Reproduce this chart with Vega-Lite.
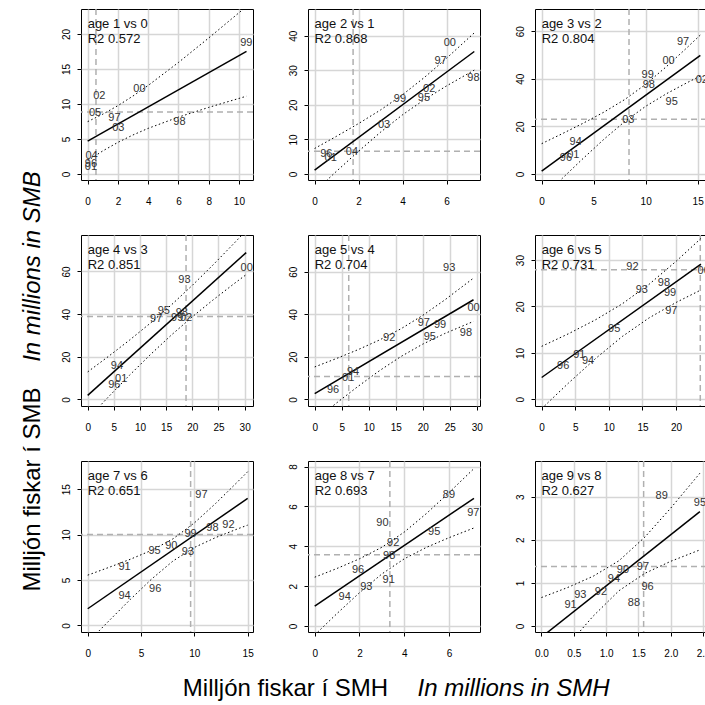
{
"$schema":"https://vega.github.io/schema/vega-lite/v6.json",
"padding":{"left":19,"top":7,"right":0,"bottom":0},
"columns":3,
"spacing":55,
"bounds":"flush",
"concat":[
{"width":172,"height":171,
"data":{"values":[
{"t":"v","x":0.55},{"t":"h","y":8.86},
{"t":"f","x":0,"y":4.7},{"t":"f","x":10.5,"y":17.51},
{"t":"u","x":0,"y":7.48},{"t":"u","x":1,"y":8.54},{"t":"u","x":2,"y":9.76},{"t":"u","x":3,"y":11.14},{"t":"u","x":4,"y":12.64},{"t":"u","x":6,"y":15.92},{"t":"u","x":8,"y":19.41},{"t":"u","x":10.5,"y":23.91},
{"t":"l","x":0,"y":1.92},{"t":"l","x":1,"y":3.30},{"t":"l","x":2,"y":4.52},{"t":"l","x":3,"y":5.58},{"t":"l","x":4,"y":6.52},{"t":"l","x":6,"y":8.12},{"t":"l","x":8,"y":9.51},{"t":"l","x":10.5,"y":11.11},
{"t":"p","x":10.49,"y":18.7,"lab":"99"},{"t":"p","x":3.42,"y":12.1,"lab":"00"},{"t":"p","x":0.77,"y":11.1,"lab":"02"},{"t":"p","x":0.49,"y":8.7,"lab":"05"},{"t":"p","x":1.77,"y":8.0,"lab":"97"},{"t":"p","x":2.03,"y":6.6,"lab":"03"},{"t":"p","x":6.07,"y":7.4,"lab":"98"},{"t":"p","x":0.26,"y":2.6,"lab":"04"},{"t":"p","x":0.22,"y":1.4,"lab":"96"},{"t":"p","x":0.22,"y":0.95,"lab":"01"},
{"t":"n","x":0,"y":21.45,"lab":"age 1 vs 0"},{"t":"n","x":0,"y":19.31,"lab":"R2 0.572"}]},
"layer":[
{"transform":[{"filter":"datum.t=='v'"}],"mark":{"type":"rule","color":"#b0b0b0","strokeWidth":1.5,"strokeDash":[6,4]},"encoding":{"x":{"field":"x","type":"quantitative","scale":{"domain":[-0.44,10.93],"nice":false,"zero":false},"axis":{"values":[0,2,4,6,8,10],"title":null,"labelOverlap":false}}}},
{"transform":[{"filter":"datum.t=='h'"}],"mark":{"type":"rule","color":"#b0b0b0","strokeWidth":1.5,"strokeDash":[6,4]},"encoding":{"y":{"field":"y","type":"quantitative","scale":{"domain":[-0.85,23.55],"nice":false,"zero":false},"axis":{"values":[0,5,10,15,20],"title":null,"labelOverlap":false}}}},
{"encoding":{"x":{"field":"x","type":"quantitative","scale":{"domain":[-0.44,10.93],"nice":false,"zero":false},"axis":{"values":[0,2,4,6,8,10],"title":null,"labelOverlap":false}},"y":{"field":"y","type":"quantitative","scale":{"domain":[-0.85,23.55],"nice":false,"zero":false},"axis":{"values":[0,5,10,15,20],"title":null,"labelOverlap":false}}},
"layer":[
{"transform":[{"filter":"datum.t=='u'||datum.t=='l'"}],"mark":{"type":"line","color":"#000","strokeWidth":1,"strokeDash":[1.5,2.5],"clip":true},"encoding":{"detail":{"field":"t"}}},
{"transform":[{"filter":"datum.t=='f'"}],"mark":{"type":"line","color":"#000","strokeWidth":1.5,"clip":true}},
{"transform":[{"filter":"datum.t=='p'"}],"mark":{"type":"text","fontSize":11,"color":"#333"},"encoding":{"text":{"field":"lab"}}},
{"transform":[{"filter":"datum.t=='n'"}],"mark":{"type":"text","fontSize":13,"align":"left","color":"#111"},"encoding":{"text":{"field":"lab"}}}
]}]},
{"width":172,"height":171,
"data":{"values":[
{"t":"v","x":1.75},{"t":"h","y":6.6},
{"t":"f","x":0,"y":1.15},{"t":"f","x":7.26,"y":35.42},
{"t":"u","x":0,"y":7.38},{"t":"u","x":1,"y":10.92},{"t":"u","x":2,"y":14.59},{"t":"u","x":3,"y":18.52},{"t":"u","x":4,"y":22.93},{"t":"u","x":5,"y":27.96},{"t":"u","x":6,"y":33.47},{"t":"u","x":7.26,"y":40.8},
{"t":"l","x":0,"y":-5.08},{"t":"l","x":1,"y":0.82},{"t":"l","x":2,"y":6.59},{"t":"l","x":3,"y":12.10},{"t":"l","x":4,"y":17.13},{"t":"l","x":5,"y":21.54},{"t":"l","x":6,"y":25.47},{"t":"l","x":7.26,"y":30.04},
{"t":"p","x":6.15,"y":37.9,"lab":"00"},{"t":"p","x":5.73,"y":32.8,"lab":"97"},{"t":"p","x":7.22,"y":27.7,"lab":"98"},{"t":"p","x":5.21,"y":24.5,"lab":"02"},{"t":"p","x":4.97,"y":22.1,"lab":"95"},{"t":"p","x":3.88,"y":21.6,"lab":"99"},{"t":"p","x":3.16,"y":14.3,"lab":"03"},{"t":"p","x":1.70,"y":6.4,"lab":"04"},{"t":"p","x":0.53,"y":5.7,"lab":"96"},{"t":"p","x":0.73,"y":4.5,"lab":"01"},
{"t":"n","x":0,"y":43.45,"lab":"age 2 vs 1"},{"t":"n","x":0,"y":39.12,"lab":"R2 0.868"}]},
"layer":[
{"transform":[{"filter":"datum.t=='v'"}],"mark":{"type":"rule","color":"#b0b0b0","strokeWidth":1.5,"strokeDash":[6,4]},"encoding":{"x":{"field":"x","type":"quantitative","scale":{"domain":[-0.30,7.52],"nice":false,"zero":false},"axis":{"values":[0,2,4,6],"title":null,"labelOverlap":false}}}},
{"transform":[{"filter":"datum.t=='h'"}],"mark":{"type":"rule","color":"#b0b0b0","strokeWidth":1.5,"strokeDash":[6,4]},"encoding":{"y":{"field":"y","type":"quantitative","scale":{"domain":[-1.73,47.7],"nice":false,"zero":false},"axis":{"values":[0,10,20,30,40],"title":null,"labelOverlap":false}}}},
{"encoding":{"x":{"field":"x","type":"quantitative","scale":{"domain":[-0.30,7.52],"nice":false,"zero":false},"axis":{"values":[0,2,4,6],"title":null,"labelOverlap":false}},"y":{"field":"y","type":"quantitative","scale":{"domain":[-1.73,47.7],"nice":false,"zero":false},"axis":{"values":[0,10,20,30,40],"title":null,"labelOverlap":false}}},
"layer":[
{"transform":[{"filter":"datum.t=='u'||datum.t=='l'"}],"mark":{"type":"line","color":"#000","strokeWidth":1,"strokeDash":[1.5,2.5],"clip":true},"encoding":{"detail":{"field":"t"}}},
{"transform":[{"filter":"datum.t=='f'"}],"mark":{"type":"line","color":"#000","strokeWidth":1.5,"clip":true}},
{"transform":[{"filter":"datum.t=='p'"}],"mark":{"type":"text","fontSize":11,"color":"#333"},"encoding":{"text":{"field":"lab"}}},
{"transform":[{"filter":"datum.t=='n'"}],"mark":{"type":"text","fontSize":13,"align":"left","color":"#111"},"encoding":{"text":{"field":"lab"}}}
]}]},
{"width":172,"height":171,
"data":{"values":[
{"t":"v","x":8.4},{"t":"h","y":23.0},
{"t":"f","x":0,"y":1.26},{"t":"f","x":15.26,"y":49.79},
{"t":"u","x":0,"y":12.76},{"t":"u","x":2,"y":16.98},{"t":"u","x":4,"y":21.36},{"t":"u","x":6,"y":26.03},{"t":"u","x":8,"y":31.32},{"t":"u","x":10,"y":37.68},{"t":"u","x":12,"y":45.11},{"t":"u","x":14,"y":53.16},{"t":"u","x":15.26,"y":58.39},
{"t":"l","x":0,"y":-10.24},{"t":"l","x":2,"y":-1.74},{"t":"l","x":4,"y":6.60},{"t":"l","x":6,"y":14.65},{"t":"l","x":8,"y":22.08},{"t":"l","x":10,"y":28.44},{"t":"l","x":12,"y":33.73},{"t":"l","x":14,"y":38.40},{"t":"l","x":15.26,"y":41.19},
{"t":"p","x":13.6,"y":55.4,"lab":"97"},{"t":"p","x":12.2,"y":47.3,"lab":"00"},{"t":"p","x":10.2,"y":41.4,"lab":"99"},{"t":"p","x":10.3,"y":37.2,"lab":"98"},{"t":"p","x":15.4,"y":39.3,"lab":"02"},{"t":"p","x":12.5,"y":30.3,"lab":"95"},{"t":"p","x":8.33,"y":22.6,"lab":"03"},{"t":"p","x":3.27,"y":13.5,"lab":"94"},{"t":"p","x":2.34,"y":6.8,"lab":"96"},{"t":"p","x":3.04,"y":7.9,"lab":"01"},
{"t":"n","x":0,"y":63.13,"lab":"age 3 vs 2"},{"t":"n","x":0,"y":56.83,"lab":"R2 0.804"}]},
"layer":[
{"transform":[{"filter":"datum.t=='v'"}],"mark":{"type":"rule","color":"#b0b0b0","strokeWidth":1.5,"strokeDash":[6,4]},"encoding":{"x":{"field":"x","type":"quantitative","scale":{"domain":[-0.64,15.9],"nice":false,"zero":false},"axis":{"values":[0,5,10,15],"title":null,"labelOverlap":false}}}},
{"transform":[{"filter":"datum.t=='h'"}],"mark":{"type":"rule","color":"#b0b0b0","strokeWidth":1.5,"strokeDash":[6,4]},"encoding":{"y":{"field":"y","type":"quantitative","scale":{"domain":[-2.5,69.3],"nice":false,"zero":false},"axis":{"values":[0,20,40,60],"title":null,"labelOverlap":false}}}},
{"encoding":{"x":{"field":"x","type":"quantitative","scale":{"domain":[-0.64,15.9],"nice":false,"zero":false},"axis":{"values":[0,5,10,15],"title":null,"labelOverlap":false}},"y":{"field":"y","type":"quantitative","scale":{"domain":[-2.5,69.3],"nice":false,"zero":false},"axis":{"values":[0,20,40,60],"title":null,"labelOverlap":false}}},
"layer":[
{"transform":[{"filter":"datum.t=='u'||datum.t=='l'"}],"mark":{"type":"line","color":"#000","strokeWidth":1,"strokeDash":[1.5,2.5],"clip":true},"encoding":{"detail":{"field":"t"}}},
{"transform":[{"filter":"datum.t=='f'"}],"mark":{"type":"line","color":"#000","strokeWidth":1.5,"clip":true}},
{"transform":[{"filter":"datum.t=='p'"}],"mark":{"type":"text","fontSize":11,"color":"#333"},"encoding":{"text":{"field":"lab"}}},
{"transform":[{"filter":"datum.t=='n'"}],"mark":{"type":"text","fontSize":13,"align":"left","color":"#111"},"encoding":{"text":{"field":"lab"}}}
]}]},
{"width":172,"height":171,
"data":{"values":[
{"t":"v","x":18.8},{"t":"h","y":38.9},
{"t":"f","x":0,"y":1.9},{"t":"f","x":30.3,"y":68.86},
{"t":"u","x":0,"y":12.9},{"t":"u","x":4,"y":20.22},{"t":"u","x":8,"y":27.81},{"t":"u","x":12,"y":35.8},{"t":"u","x":16,"y":44.33},{"t":"u","x":20,"y":53.48},{"t":"u","x":24,"y":63.17},{"t":"u","x":28,"y":73.26},{"t":"u","x":30.3,"y":79.19},
{"t":"l","x":0,"y":-9.1},{"t":"l","x":4,"y":1.26},{"t":"l","x":8,"y":11.35},{"t":"l","x":12,"y":21.04},{"t":"l","x":16,"y":30.19},{"t":"l","x":20,"y":38.72},{"t":"l","x":24,"y":46.71},{"t":"l","x":28,"y":54.3},{"t":"l","x":30.3,"y":58.53},
{"t":"p","x":30.4,"y":61.6,"lab":"00"},{"t":"p","x":18.5,"y":56.1,"lab":"93"},{"t":"p","x":14.55,"y":41.5,"lab":"95"},{"t":"p","x":13.1,"y":37.6,"lab":"97"},{"t":"p","x":18.0,"y":40.3,"lab":"98"},{"t":"p","x":17.1,"y":38.1,"lab":"99"},{"t":"p","x":18.8,"y":38.1,"lab":"02"},{"t":"p","x":5.6,"y":15.7,"lab":"94"},{"t":"p","x":6.4,"y":9.7,"lab":"01"},{"t":"p","x":5.1,"y":6.6,"lab":"96"},
{"t":"n","x":0,"y":70.21,"lab":"age 4 vs 3"},{"t":"n","x":0,"y":63.17,"lab":"R2 0.851"}]},
"layer":[
{"transform":[{"filter":"datum.t=='v'"}],"mark":{"type":"rule","color":"#b0b0b0","strokeWidth":1.5,"strokeDash":[6,4]},"encoding":{"x":{"field":"x","type":"quantitative","scale":{"domain":[-1.28,31.6],"nice":false,"zero":false},"axis":{"values":[0,5,10,15,20,25,30],"title":null,"labelOverlap":false}}}},
{"transform":[{"filter":"datum.t=='h'"}],"mark":{"type":"rule","color":"#b0b0b0","strokeWidth":1.5,"strokeDash":[6,4]},"encoding":{"y":{"field":"y","type":"quantitative","scale":{"domain":[-3.1,77.1],"nice":false,"zero":false},"axis":{"values":[0,20,40,60],"labelOverlap":false,"title":"In millions in SMB","titleFontStyle":"italic","titleX":-42,"titleY":31,"titleAngle":270,"titleAlign":"center","titleBaseline":"alphabetic"}}}},
{"encoding":{"x":{"field":"x","type":"quantitative","scale":{"domain":[-1.28,31.6],"nice":false,"zero":false},"axis":{"values":[0,5,10,15,20,25,30],"title":null,"labelOverlap":false}},"y":{"field":"y","type":"quantitative","scale":{"domain":[-3.1,77.1],"nice":false,"zero":false},"axis":{"values":[0,20,40,60],"labelOverlap":false,"title":"In millions in SMB","titleFontStyle":"italic","titleX":-42,"titleY":31,"titleAngle":270,"titleAlign":"center","titleBaseline":"alphabetic"}}},
"layer":[
{"transform":[{"filter":"datum.t=='u'||datum.t=='l'"}],"mark":{"type":"line","color":"#000","strokeWidth":1,"strokeDash":[1.5,2.5],"clip":true},"encoding":{"detail":{"field":"t"}}},
{"transform":[{"filter":"datum.t=='f'"}],"mark":{"type":"line","color":"#000","strokeWidth":1.5,"clip":true}},
{"transform":[{"filter":"datum.t=='p'"}],"mark":{"type":"text","fontSize":11,"color":"#333"},"encoding":{"text":{"field":"lab"}}},
{"transform":[{"filter":"datum.t=='n'"}],"mark":{"type":"text","fontSize":13,"align":"left","color":"#111"},"encoding":{"text":{"field":"lab"}}}
]}]},
{"width":172,"height":171,
"data":{"values":[
{"t":"v","x":6.3},{"t":"h","y":10.7},
{"t":"f","x":0,"y":2.7},{"t":"f","x":29.4,"y":46.8},
{"t":"u","x":0,"y":15.25},{"t":"u","x":4,"y":19.17},{"t":"u","x":8,"y":23.33},{"t":"u","x":12,"y":27.91},{"t":"u","x":16,"y":33.21},{"t":"u","x":20,"y":39.45},{"t":"u","x":24,"y":46.55},{"t":"u","x":29.4,"y":56.97},
{"t":"l","x":0,"y":-9.85},{"t":"l","x":4,"y":-1.77},{"t":"l","x":8,"y":6.07},{"t":"l","x":12,"y":13.49},{"t":"l","x":16,"y":20.19},{"t":"l","x":20,"y":25.95},{"t":"l","x":24,"y":30.85},{"t":"l","x":29.4,"y":36.63},
{"t":"p","x":24.9,"y":61.7,"lab":"93"},{"t":"p","x":29.4,"y":42.7,"lab":"00"},{"t":"p","x":20.2,"y":35.8,"lab":"97"},{"t":"p","x":23.2,"y":35.0,"lab":"99"},{"t":"p","x":28.0,"y":31.1,"lab":"98"},{"t":"p","x":21.3,"y":29.5,"lab":"95"},{"t":"p","x":13.8,"y":28.6,"lab":"92"},{"t":"p","x":7.1,"y":13.0,"lab":"94"},{"t":"p","x":6.2,"y":10.2,"lab":"01"},{"t":"p","x":3.4,"y":4.4,"lab":"96"},
{"t":"n","x":0,"y":70.3,"lab":"age 5 vs 4"},{"t":"n","x":0,"y":63.25,"lab":"R2 0.704"}]},
"layer":[
{"transform":[{"filter":"datum.t=='v'"}],"mark":{"type":"rule","color":"#b0b0b0","strokeWidth":1.5,"strokeDash":[6,4]},"encoding":{"x":{"field":"x","type":"quantitative","scale":{"domain":[-1.24,30.6],"nice":false,"zero":false},"axis":{"values":[0,5,10,15,20,25,30],"title":null,"labelOverlap":false}}}},
{"transform":[{"filter":"datum.t=='h'"}],"mark":{"type":"rule","color":"#b0b0b0","strokeWidth":1.5,"strokeDash":[6,4]},"encoding":{"y":{"field":"y","type":"quantitative","scale":{"domain":[-3.1,77.2],"nice":false,"zero":false},"axis":{"values":[0,20,40,60],"title":null,"labelOverlap":false}}}},
{"encoding":{"x":{"field":"x","type":"quantitative","scale":{"domain":[-1.24,30.6],"nice":false,"zero":false},"axis":{"values":[0,5,10,15,20,25,30],"title":null,"labelOverlap":false}},"y":{"field":"y","type":"quantitative","scale":{"domain":[-3.1,77.2],"nice":false,"zero":false},"axis":{"values":[0,20,40,60],"title":null,"labelOverlap":false}}},
"layer":[
{"transform":[{"filter":"datum.t=='u'||datum.t=='l'"}],"mark":{"type":"line","color":"#000","strokeWidth":1,"strokeDash":[1.5,2.5],"clip":true},"encoding":{"detail":{"field":"t"}}},
{"transform":[{"filter":"datum.t=='f'"}],"mark":{"type":"line","color":"#000","strokeWidth":1.5,"clip":true}},
{"transform":[{"filter":"datum.t=='p'"}],"mark":{"type":"text","fontSize":11,"color":"#333"},"encoding":{"text":{"field":"lab"}}},
{"transform":[{"filter":"datum.t=='n'"}],"mark":{"type":"text","fontSize":13,"align":"left","color":"#111"},"encoding":{"text":{"field":"lab"}}}
]}]},
{"width":172,"height":171,
"data":{"values":[
{"t":"v","x":23.6},{"t":"h","y":27.9},
{"t":"f","x":0,"y":4.7},{"t":"f","x":23.7,"y":29.11},
{"t":"u","x":0,"y":11.41},{"t":"u","x":4,"y":14.13},{"t":"u","x":8,"y":17.12},{"t":"u","x":12,"y":20.58},{"t":"u","x":16,"y":24.8},{"t":"u","x":20,"y":29.73},{"t":"u","x":23.7,"y":34.66},
{"t":"l","x":0,"y":-2.01},{"t":"l","x":4,"y":3.51},{"t":"l","x":8,"y":8.76},{"t":"l","x":12,"y":13.54},{"t":"l","x":16,"y":17.56},{"t":"l","x":20,"y":20.87},{"t":"l","x":23.7,"y":23.56},
{"t":"p","x":24.1,"y":27.6,"lab":"00"},{"t":"p","x":13.5,"y":28.4,"lab":"92"},{"t":"p","x":18.2,"y":25.0,"lab":"98"},{"t":"p","x":14.9,"y":23.5,"lab":"93"},{"t":"p","x":19.1,"y":23.0,"lab":"99"},{"t":"p","x":19.3,"y":19.1,"lab":"97"},{"t":"p","x":10.8,"y":15.1,"lab":"95"},{"t":"p","x":5.6,"y":9.5,"lab":"91"},{"t":"p","x":6.9,"y":8.3,"lab":"94"},{"t":"p","x":3.2,"y":7.1,"lab":"96"},
{"t":"n","x":0,"y":32.23,"lab":"age 6 vs 5"},{"t":"n","x":0,"y":29.0,"lab":"R2 0.731"}]},
"layer":[
{"transform":[{"filter":"datum.t=='v'"}],"mark":{"type":"rule","color":"#b0b0b0","strokeWidth":1.5,"strokeDash":[6,4]},"encoding":{"x":{"field":"x","type":"quantitative","scale":{"domain":[-0.99,24.6],"nice":false,"zero":false},"axis":{"values":[0,5,10,15,20],"title":null,"labelOverlap":false}}}},
{"transform":[{"filter":"datum.t=='h'"}],"mark":{"type":"rule","color":"#b0b0b0","strokeWidth":1.5,"strokeDash":[6,4]},"encoding":{"y":{"field":"y","type":"quantitative","scale":{"domain":[-1.44,35.4],"nice":false,"zero":false},"axis":{"values":[0,10,20,30],"title":null,"labelOverlap":false}}}},
{"encoding":{"x":{"field":"x","type":"quantitative","scale":{"domain":[-0.99,24.6],"nice":false,"zero":false},"axis":{"values":[0,5,10,15,20],"title":null,"labelOverlap":false}},"y":{"field":"y","type":"quantitative","scale":{"domain":[-1.44,35.4],"nice":false,"zero":false},"axis":{"values":[0,10,20,30],"title":null,"labelOverlap":false}}},
"layer":[
{"transform":[{"filter":"datum.t=='u'||datum.t=='l'"}],"mark":{"type":"line","color":"#000","strokeWidth":1,"strokeDash":[1.5,2.5],"clip":true},"encoding":{"detail":{"field":"t"}}},
{"transform":[{"filter":"datum.t=='f'"}],"mark":{"type":"line","color":"#000","strokeWidth":1.5,"clip":true}},
{"transform":[{"filter":"datum.t=='p'"}],"mark":{"type":"text","fontSize":11,"color":"#333"},"encoding":{"text":{"field":"lab"}}},
{"transform":[{"filter":"datum.t=='n'"}],"mark":{"type":"text","fontSize":13,"align":"left","color":"#111"},"encoding":{"text":{"field":"lab"}}}
]}]},
{"width":172,"height":171,
"data":{"values":[
{"t":"v","x":9.65},{"t":"h","y":10.0},
{"t":"f","x":0,"y":1.83},{"t":"f","x":15,"y":13.98},
{"t":"u","x":0,"y":5.53},{"t":"u","x":2,"y":6.39},{"t":"u","x":4,"y":7.28},{"t":"u","x":6,"y":8.27},{"t":"u","x":8,"y":9.53},{"t":"u","x":10,"y":11.28},{"t":"u","x":12,"y":13.43},{"t":"u","x":14,"y":15.74},{"t":"u","x":15,"y":16.92},
{"t":"l","x":0,"y":-1.87},{"t":"l","x":2,"y":0.51},{"t":"l","x":4,"y":2.86},{"t":"l","x":6,"y":5.11},{"t":"l","x":8,"y":7.09},{"t":"l","x":10,"y":8.58},{"t":"l","x":12,"y":9.67},{"t":"l","x":14,"y":10.6},{"t":"l","x":15,"y":11.04},
{"t":"p","x":10.66,"y":14.4,"lab":"97"},{"t":"p","x":13.2,"y":11.0,"lab":"92"},{"t":"p","x":11.7,"y":10.7,"lab":"98"},{"t":"p","x":9.65,"y":10.1,"lab":"99"},{"t":"p","x":7.84,"y":8.7,"lab":"90"},{"t":"p","x":6.27,"y":8.2,"lab":"95"},{"t":"p","x":9.4,"y":8.1,"lab":"93"},{"t":"p","x":3.45,"y":6.4,"lab":"91"},{"t":"p","x":6.33,"y":4.0,"lab":"96"},{"t":"p","x":3.45,"y":3.2,"lab":"94"},
{"t":"n","x":0,"y":16.48,"lab":"age 7 vs 6"},{"t":"n","x":0,"y":14.83,"lab":"R2 0.651"}]},
"layer":[
{"transform":[{"filter":"datum.t=='v'"}],"mark":{"type":"rule","color":"#b0b0b0","strokeWidth":1.5,"strokeDash":[6,4]},"encoding":{"x":{"field":"x","type":"quantitative","scale":{"domain":[-0.63,15.5],"nice":false,"zero":false},"axis":{"values":[0,5,10,15],"title":null,"labelOverlap":false}}}},
{"transform":[{"filter":"datum.t=='h'"}],"mark":{"type":"rule","color":"#b0b0b0","strokeWidth":1.5,"strokeDash":[6,4]},"encoding":{"y":{"field":"y","type":"quantitative","scale":{"domain":[-0.73,18.1],"nice":false,"zero":false},"axis":{"values":[0,5,10,15],"labelOverlap":false,"title":"Milljón fiskar í SMB","titleX":-42,"titleY":28,"titleAngle":270,"titleAlign":"center","titleBaseline":"alphabetic"}}}},
{"encoding":{"x":{"field":"x","type":"quantitative","scale":{"domain":[-0.63,15.5],"nice":false,"zero":false},"axis":{"values":[0,5,10,15],"title":null,"labelOverlap":false}},"y":{"field":"y","type":"quantitative","scale":{"domain":[-0.73,18.1],"nice":false,"zero":false},"axis":{"values":[0,5,10,15],"labelOverlap":false,"title":"Milljón fiskar í SMB","titleX":-42,"titleY":28,"titleAngle":270,"titleAlign":"center","titleBaseline":"alphabetic"}}},
"layer":[
{"transform":[{"filter":"datum.t=='u'||datum.t=='l'"}],"mark":{"type":"line","color":"#000","strokeWidth":1,"strokeDash":[1.5,2.5],"clip":true},"encoding":{"detail":{"field":"t"}}},
{"transform":[{"filter":"datum.t=='f'"}],"mark":{"type":"line","color":"#000","strokeWidth":1.5,"clip":true}},
{"transform":[{"filter":"datum.t=='p'"}],"mark":{"type":"text","fontSize":11,"color":"#333"},"encoding":{"text":{"field":"lab"}}},
{"transform":[{"filter":"datum.t=='n'"}],"mark":{"type":"text","fontSize":13,"align":"left","color":"#111"},"encoding":{"text":{"field":"lab"}}}
]}]},
{"width":172,"height":171,
"data":{"values":[
{"t":"v","x":3.36},{"t":"h","y":3.57},
{"t":"f","x":0,"y":1.0},{"t":"f","x":7.12,"y":6.41},
{"t":"u","x":0,"y":2.45},{"t":"u","x":1,"y":2.89},{"t":"u","x":2,"y":3.37},{"t":"u","x":3,"y":3.95},{"t":"u","x":4,"y":4.71},{"t":"u","x":5,"y":5.65},{"t":"u","x":6,"y":6.69},{"t":"u","x":7.12,"y":7.9},
{"t":"l","x":0,"y":-0.45},{"t":"l","x":1,"y":0.63},{"t":"l","x":2,"y":1.67},{"t":"l","x":3,"y":2.61},{"t":"l","x":4,"y":3.37},{"t":"l","x":5,"y":3.95},{"t":"l","x":6,"y":4.43},{"t":"l","x":7.12,"y":4.92},
{"t":"p","x":6.0,"y":6.57,"lab":"89"},{"t":"p","x":7.09,"y":5.67,"lab":"97"},{"t":"p","x":3.03,"y":5.17,"lab":"90"},{"t":"p","x":5.34,"y":4.73,"lab":"95"},{"t":"p","x":3.51,"y":4.15,"lab":"92"},{"t":"p","x":3.33,"y":3.5,"lab":"98"},{"t":"p","x":1.94,"y":2.82,"lab":"96"},{"t":"p","x":3.31,"y":2.33,"lab":"91"},{"t":"p","x":2.31,"y":1.98,"lab":"93"},{"t":"p","x":1.34,"y":1.48,"lab":"94"},
{"t":"n","x":0,"y":7.54,"lab":"age 8 vs 7"},{"t":"n","x":0,"y":6.79,"lab":"R2 0.693"}]},
"layer":[
{"transform":[{"filter":"datum.t=='v'"}],"mark":{"type":"rule","color":"#b0b0b0","strokeWidth":1.5,"strokeDash":[6,4]},"encoding":{"x":{"field":"x","type":"quantitative","scale":{"domain":[-0.30,7.39],"nice":false,"zero":false},"axis":{"values":[0,2,4,6],"labelOverlap":false,"title":"Milljón fiskar í SMH","titleX":-23,"titleY":63,"titleAlign":"center","titleBaseline":"alphabetic"}}}},
{"transform":[{"filter":"datum.t=='h'"}],"mark":{"type":"rule","color":"#b0b0b0","strokeWidth":1.5,"strokeDash":[6,4]},"encoding":{"y":{"field":"y","type":"quantitative","scale":{"domain":[-0.30,8.28],"nice":false,"zero":false},"axis":{"values":[0,2,4,6,8],"title":null,"labelOverlap":false}}}},
{"encoding":{"x":{"field":"x","type":"quantitative","scale":{"domain":[-0.30,7.39],"nice":false,"zero":false},"axis":{"values":[0,2,4,6],"labelOverlap":false,"title":"Milljón fiskar í SMH","titleX":-23,"titleY":63,"titleAlign":"center","titleBaseline":"alphabetic"}},"y":{"field":"y","type":"quantitative","scale":{"domain":[-0.30,8.28],"nice":false,"zero":false},"axis":{"values":[0,2,4,6,8],"title":null,"labelOverlap":false}}},
"layer":[
{"transform":[{"filter":"datum.t=='u'||datum.t=='l'"}],"mark":{"type":"line","color":"#000","strokeWidth":1,"strokeDash":[1.5,2.5],"clip":true},"encoding":{"detail":{"field":"t"}}},
{"transform":[{"filter":"datum.t=='f'"}],"mark":{"type":"line","color":"#000","strokeWidth":1.5,"clip":true}},
{"transform":[{"filter":"datum.t=='p'"}],"mark":{"type":"text","fontSize":11,"color":"#333"},"encoding":{"text":{"field":"lab"}}},
{"transform":[{"filter":"datum.t=='n'"}],"mark":{"type":"text","fontSize":13,"align":"left","color":"#111"},"encoding":{"text":{"field":"lab"}}}
]}]},
{"width":172,"height":171,
"data":{"values":[
{"t":"v","x":1.58},{"t":"h","y":1.38},
{"t":"f","x":0,"y":-0.26},{"t":"f","x":2.45,"y":2.656},
{"t":"u","x":0,"y":0.66},{"t":"u","x":0.4,"y":0.89},{"t":"u","x":0.8,"y":1.155},{"t":"u","x":1.2,"y":1.516},{"t":"u","x":1.6,"y":2.065},{"t":"u","x":2.0,"y":2.738},{"t":"u","x":2.45,"y":3.546},
{"t":"l","x":0,"y":-1.18},{"t":"l","x":0.4,"y":-0.46},{"t":"l","x":0.8,"y":0.229},{"t":"l","x":1.2,"y":0.82},{"t":"l","x":1.6,"y":1.223},{"t":"l","x":2.0,"y":1.502},{"t":"l","x":2.45,"y":1.766},
{"t":"p","x":1.86,"y":3.02,"lab":"89"},{"t":"p","x":2.45,"y":2.85,"lab":"95"},{"t":"p","x":1.26,"y":1.31,"lab":"90"},{"t":"p","x":1.57,"y":1.36,"lab":"97"},{"t":"p","x":1.12,"y":1.08,"lab":"94"},{"t":"p","x":1.64,"y":0.9,"lab":"96"},{"t":"p","x":0.92,"y":0.79,"lab":"92"},{"t":"p","x":0.60,"y":0.71,"lab":"93"},{"t":"p","x":0.45,"y":0.49,"lab":"91"},{"t":"p","x":1.43,"y":0.54,"lab":"88"},
{"t":"n","x":0,"y":3.49,"lab":"age 9 vs 8"},{"t":"n","x":0,"y":3.14,"lab":"R2 0.627"}]},
"layer":[
{"transform":[{"filter":"datum.t=='v'"}],"mark":{"type":"rule","color":"#b0b0b0","strokeWidth":1.5,"strokeDash":[6,4]},"encoding":{"x":{"field":"x","type":"quantitative","scale":{"domain":[-0.10,2.56],"nice":false,"zero":false},"axis":{"values":[0,0.5,1,1.5,2,2.5],"format":".1f","labelOverlap":false,"title":"In millions in SMH","titleFontStyle":"italic","titleX":-22,"titleY":63,"titleAlign":"center","titleBaseline":"alphabetic"}}}},
{"transform":[{"filter":"datum.t=='h'"}],"mark":{"type":"rule","color":"#b0b0b0","strokeWidth":1.5,"strokeDash":[6,4]},"encoding":{"y":{"field":"y","type":"quantitative","scale":{"domain":[-0.14,3.83],"nice":false,"zero":false},"axis":{"values":[0,1,2,3],"title":null,"labelOverlap":false}}}},
{"encoding":{"x":{"field":"x","type":"quantitative","scale":{"domain":[-0.10,2.56],"nice":false,"zero":false},"axis":{"values":[0,0.5,1,1.5,2,2.5],"format":".1f","labelOverlap":false,"title":"In millions in SMH","titleFontStyle":"italic","titleX":-22,"titleY":63,"titleAlign":"center","titleBaseline":"alphabetic"}},"y":{"field":"y","type":"quantitative","scale":{"domain":[-0.14,3.83],"nice":false,"zero":false},"axis":{"values":[0,1,2,3],"title":null,"labelOverlap":false}}},
"layer":[
{"transform":[{"filter":"datum.t=='u'||datum.t=='l'"}],"mark":{"type":"line","color":"#000","strokeWidth":1,"strokeDash":[1.5,2.5],"clip":true},"encoding":{"detail":{"field":"t"}}},
{"transform":[{"filter":"datum.t=='f'"}],"mark":{"type":"line","color":"#000","strokeWidth":1.5,"clip":true}},
{"transform":[{"filter":"datum.t=='p'"}],"mark":{"type":"text","fontSize":11,"color":"#333"},"encoding":{"text":{"field":"lab"}}},
{"transform":[{"filter":"datum.t=='n'"}],"mark":{"type":"text","fontSize":13,"align":"left","color":"#111"},"encoding":{"text":{"field":"lab"}}}
]}]}
],
"config":{
"font":"Liberation Sans",
"view":{"stroke":"#000","strokeWidth":1},
"axis":{"grid":true,"gridColor":"#d6d6d6","gridWidth":1.5,"domain":false,"ticks":true,"tickColor":"#000","tickSize":4,"tickWidth":1,"labelFontSize":10,"labelColor":"#000","labelOverlap":false,"labelFlush":false,"labelBound":false,"labelSeparation":0,"titleFontSize":24,"titleFontWeight":"normal","titleColor":"#000"},
"axisX":{"labelPadding":12,"labelBaseline":"top"},
"axisY":{"labelAngle":-90,"labelAlign":"center","labelBaseline":"alphabetic","labelPadding":8}
}
}
